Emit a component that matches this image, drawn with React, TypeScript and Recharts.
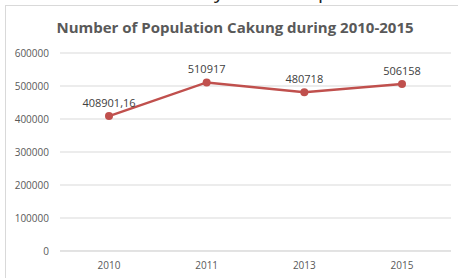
import { LineChart, Line, XAxis, YAxis, CartesianGrid, LabelList } from 'recharts';

const years = ['2010', '2011', '2013', '2015'];
const population = [408901.16, 510917, 480718, 506158];
const yTicks = [0, 100000, 200000, 300000, 400000, 500000, 600000];

const data = years.map((year, i) => ({ year, population: population[i] }));

const font = '"Open Sans", sans-serif';
const textGray = '#595959';
const gridGray = '#d9d9d9';
const red = '#c0504d';

// Excel shows the decimal with a comma
const formatValue = (v: any) => String(v).replace('.', ',');

export default function App() {
  return (
    <div style={{ position: 'absolute', left: 0, top: 0, width: 458, height: 278, overflow: 'hidden', background: '#fff', fontFamily: font }}>
      {/* descenders of the document text cut off above the chart */}
      <div style={{ position: 'absolute', left: 0, top: 0, width: 458, height: 4, overflow: 'hidden' }}>
        <span style={{ position: 'absolute', left: 214, top: -19, fontSize: 20, lineHeight: '20px', color: '#222' }}>y</span>
        <span style={{ position: 'absolute', left: 318, top: -19, fontSize: 20, lineHeight: '20px', color: '#222' }}>p</span>
      </div>
      <div style={{ position: 'absolute', left: 5, top: 5, width: 470, height: 290, border: `1px solid ${gridGray}` }} />
      <div style={{ position: 'absolute', left: 0, top: 17, width: 470, textAlign: 'center', fontSize: 15, fontWeight: 700, color: textGray, fontFamily: font }}>
        Number of Population Cakung during 2010-2015
      </div>
      <div style={{ position: 'absolute', left: 0, top: 0 }}>
        <LineChart width={458} height={278} data={data} margin={{ top: 53, right: 7, bottom: 0, left: 0 }}>
          <CartesianGrid vertical={false} stroke={gridGray} />
          <XAxis
            dataKey="year"
            height={27}
            padding={{ left: 49, right: 49 }}
            tickLine={false}
            axisLine={{ stroke: gridGray }}
            tickMargin={5}
            tick={{ fontSize: 10, fill: textGray, fontFamily: font }}
          />
          <YAxis
            width={60}
            domain={[0, 600000]}
            ticks={yTicks}
            axisLine={false}
            tickLine={false}
            tickMargin={5}
            tick={{ fontSize: 10, fill: textGray, fontFamily: font }}
          />
          <Line
            type="linear"
            dataKey="population"
            stroke={red}
            strokeWidth={2.5}
            dot={{ r: 4, fill: red, stroke: red, strokeWidth: 0 }}
            isAnimationActive={false}
          >
            <LabelList dataKey="population" position="top" offset={9} formatter={formatValue} style={{ fontSize: 11, fill: '#404040', fontFamily: font }} />
          </Line>
        </LineChart>
      </div>
    </div>
  );
}
